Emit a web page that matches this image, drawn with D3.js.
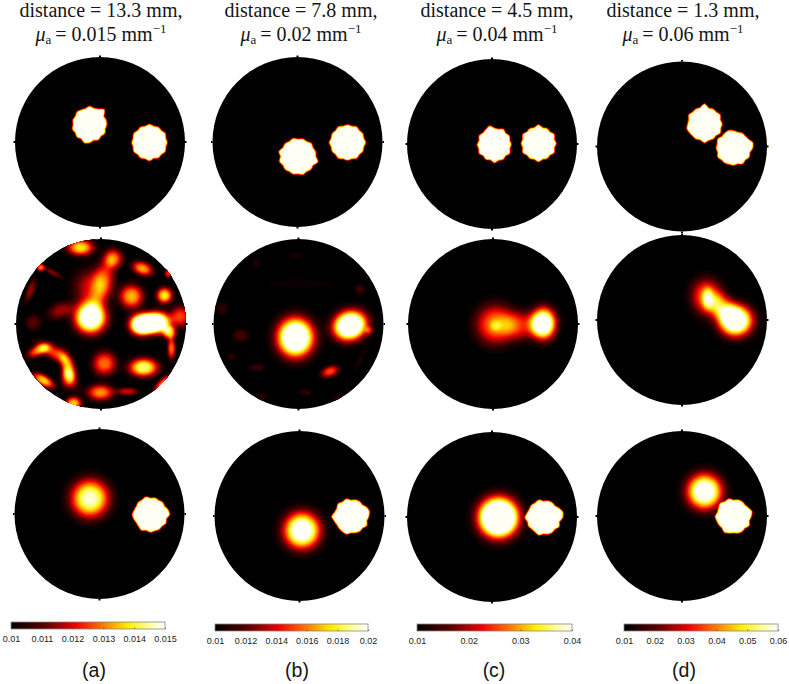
<!DOCTYPE html>
<html>
<head>
<meta charset="utf-8">
<script src="https://d3js.org/d3.v7.min.js"></script>
<style>
  body { margin: 0; background: #fff; }
  svg { display: block; }
  .title { font-family: "Liberation Serif", serif; font-size: 20px; fill: #151515; }
  .caption { font-family: "Liberation Sans", sans-serif; font-size: 19.5px; fill: #151515; }
  .cbar text { font-family: "Liberation Sans", sans-serif; font-size: 9px; fill: #222; }
</style>
</head>
<body>
<svg id="chart" width="789" height="684"></svg>
<script>
//====
// Data
//====
const distances = ["13.3", "7.8", "4.5", "1.3"];
const absorptions = ["0.015", "0.02", "0.04", "0.06"];
const captions = ["(a)", "(b)", "(c)", "(d)"];

// colour bar ticks per column
const barTicks = [
  [0.01, 0.011, 0.012, 0.013, 0.014, 0.015],
  [0.01, 0.012, 0.014, 0.016, 0.018, 0.02],
  [0.01, 0.02, 0.03, 0.04],
  [0.01, 0.02, 0.03, 0.04, 0.05, 0.06]
];
const barTickLabels = [
  ["0.01", "0.011", "0.012", "0.013", "0.014", "0.015"],
  ["0.01", "0.012", "0.014", "0.016", "0.018", "0.02"],
  ["0.01", "0.02", "0.03", "0.04"],
  ["0.01", "0.02", "0.03", "0.04", "0.05", "0.06"]
];
const barX = [[11, 165], [215, 368], [417, 572], [624, 778]];
const barY = [622, 624, 624, 624];
const captionX = [94, 297, 494, 684];
const titleX = [101, 301, 497, 683];

// disc centres on the page, [column][row]
const discCentres = [
  [[100, 142], [101, 324], [99.5, 514]],
  [[297.5, 142], [298.5, 324], [299.5, 516]],
  [[492, 144], [493, 324], [492, 517]],
  [[682, 146.5], [682, 320], [682, 516]]
];

// hot colour map, normalised value -> colour
const hotStops = [0, 0.22, 0.42, 0.6, 0.76, 0.9, 1];
const hotColours = ["#000000", "#5c0000", "#f00000", "#ff7a00", "#ffee00", "#ffffa0", "#ffffff"];

// true inclusions: centre x, y in disc units (radius 85), then outline radius
// read every 15 degrees clockwise from east
const sharpTop = [
  [
    [-11, -18, [17, 16, 17.5, 16, 17.5, 16, 18, 19, 16, 17.5, 16, 17.5, 16, 17, 16, 17.5, 16.5, 16, 18, 16.5, 17.5, 21, 16, 17]],
    [49, 0, [17.5, 16.5, 18, 16.5, 17.5, 16, 18, 16.5, 17.5, 16.5, 18, 16.5, 17.5, 16.5, 18, 16.5, 17.5, 16.5, 18, 16.5, 17.5, 16.5, 18, 16.5]]
  ],
  [
    [0, 14, [17.5, 20.5, 17, 18, 17, 18.5, 17, 18, 17, 18, 17, 19, 17, 19.5, 17, 18, 17, 18.5, 17, 18, 17, 18.5, 17, 18]],
    [49.5, 0, [18, 16.5, 17.5, 16.5, 18, 16.5, 17.5, 16.5, 18, 16.5, 17.5, 16.5, 18, 16.5, 17.5, 16.5, 18, 16.5, 17.5, 16.5, 18, 16.5, 17.5, 16.5]]
  ],
  [
    [2, 0, [16.5, 15.5, 17.5, 15.5, 17, 16, 18, 15.5, 17, 15.5, 17.5, 16, 17, 15.5, 17.5, 16, 17, 19, 16, 15.5, 17.5, 15.5, 17, 15.5]],
    [46, -1, [17.5, 16, 18, 16, 17, 16, 18, 16, 17, 16, 18, 16, 17, 16, 18, 16, 17, 16, 18.5, 16, 17, 16, 18, 16]]
  ],
  [
    [22, -23, [17.5, 16.5, 18, 16, 17, 16.5, 18.5, 16, 17, 16.5, 17, 18, 16.5, 16, 18, 16.5, 17, 16.5, 20, 16, 17, 16.5, 18, 16]],
    [51, 1, [19, 16.5, 18, 16.5, 18, 16, 17, 16.5, 17, 16.5, 18, 16, 17, 16.5, 18, 16, 17, 18, 17, 16, 17, 16.5, 17, 20]]
  ]
];
const sharpBottom = [
  [[50.5, 0, [19, 16, 17.5, 16, 17, 16.5, 17.5, 16, 18, 16.5, 16, 17, 18, 16.5, 16, 17, 16.5, 18, 16, 17, 16, 17, 16, 18]]],
  [[51, 0, [17.5, 16, 18, 16, 17, 16.5, 16, 18, 17, 16.5, 16, 17, 19, 16.5, 16, 18, 16.5, 18, 16, 17, 17, 16, 18, 19]]],
  [[51, 0, [19, 16, 18, 16, 17, 17, 16, 18, 16.5, 16, 17, 16, 18, 16.5, 16, 17, 16.5, 18, 16, 17, 17, 16, 18, 20]]],
  [[51, 0, [17.5, 16, 18, 16, 17, 17, 16, 17, 18, 16, 16.5, 17, 18, 16, 16.5, 18, 16.5, 18, 16, 17, 17, 16, 17, 19]]]
];

// reconstructed blobs: x, y, spread x, spread y, rotation, peak
const softMiddle = [
  [
    [-11, -7, 12, 12, 0, 1.25], [-9, -37, 14, 14, 0, 0.4], [2, -45, 8, 18, 15, 0.42], [12, -66, 7, 7, 0, 0.55],
    [-21, -77, 10, 6, 0, 0.78], [41, -56, 8, 5, 20, 0.68], [67, -51, 3, 3, 0, 0.5], [30, -28, 9, 9, 0, 0.7],
    [63, -29, 6, 6, 0, 0.8], [79, -8, 8, 8, 0, 0.52], [40, 0, 9, 8, 0, 1.35], [55, -2, 10, 8, 0, 1.35], [68, 8, 5, 5, 0, 0.7],
    [70, 24, 3, 8, 0, 0.6], [42, 43, 11, 7, 0, 0.9], [3, 39, 9, 9, 0, 0.6], [-1, 68, 10, 6, 0, 0.65],
    [26, 67, 8, 3, 0, 0.4], [61, 59, 3, 9, 45, 0.6], [-28, 79, 6, 5, 0, 0.75], [-58, 56, 9, 4, 30, 0.75],
    [-63, 26, 9, 4, -25, 0.6], [-48, 28, 5, 14, -60, 0.5], [-33, 44, 5, 14, -20, 0.55], [-34, 53, 5, 8, 0, 0.5],
    [-41, -14, 10, 6, -20, 0.32], [-68, -2, 6, 6, 0, 0.22], [-71, -34, 3, 9, 20, 0.32], [-61, -57, 3, 3, 0, 0.6],
    [-49, -52, 8, 2, 30, 0.3]
  ],
  [
    [-3.5, 13, 14, 15, 0, 1.35], [51, 1, 13, 11, -20, 1.4], [70, 6, 3, 3, 0, 0.3], [31, 47, 7, 4, -20, 0.55],
    [-58, 11, 6, 5, 0, 0.18], [-42, 43, 6, 3, 0, 0.15], [-68, 32, 3, 3, 0, 0.14], [61, -35, 4, 4, 0, 0.16],
    [-77, -16, 5, 5, 0, 0.12], [6, 68, 6, 3, 0, 0.12], [-42, -62, 4, 4, 0, 0.08], [-3, -69, 6, 3, 0, 0.07],
    [-37, 72, 4, 3, 0, 0.12], [38, 74, 4, 3, 0, 0.12], [1, -41, 30, 3, 0, 0.06], [61, 36, 3, 10, 30, 0.07]
  ],
  [
    [2, 0, 15, 15, 0, 0.62], [2, 1, 4, 4, 0, 0.18], [50, -1, 9.5, 12, 0, 1.2], [27, 1, 14, 11, 0, 0.42]
  ],
  [
    [25, -23, 12, 14, -15, 0.62], [25, -22, 4, 8, 0, 0.32], [53, 0, 13, 12, 0, 1.25], [40, -13, 12, 9, 45, 0.42]
  ]
];
const softBottom = [
  [[-10, -16, 14.5, 14.5, 0, 0.98]],
  [[2, 14, 14, 14, 0, 1.15]],
  [[6, 0, 15, 15, 0, 1.7]],
  [[22, -25, 13.5, 13.5, 0, 1.15]]
];

//====
// Scales
//====
const discRadius = 85;
const spreadFactor = 1.3;
const unit = d3.scaleLinear().domain([-discRadius, discRadius]).range([0, 2 * discRadius]);
const hot = d3.scaleLinear().domain(hotStops).range(hotColours).clamp(true);
const levels = d3.range(0.03, 1.0, 0.03);
const contours = d3.contours().size([2 * discRadius + 1, 2 * discRadius + 1]).thresholds(levels);
const contourPath = d3.geoPath();

function softValue(b, x, y) {
  const a = b[4] * Math.PI / 180;
  const dx = x - b[0], dy = y - b[1];
  const u = (dx * Math.cos(a) + dy * Math.sin(a)) / (b[2] * spreadFactor);
  const v = (-dx * Math.sin(a) + dy * Math.cos(a)) / (b[3] * spreadFactor);
  return b[5] * Math.exp(-Math.pow(u * u + v * v, 1.3));
}

function sharpValue(b, x, y) {
  const dx = x - b[0], dy = y - b[1];
  const d = Math.hypot(dx, dy);
  const edge = b[2];
  const t = ((Math.atan2(dy, dx) * 180 / Math.PI + 360) % 360) / 360 * edge.length;
  const i = Math.floor(t) % edge.length;
  const r = d3.interpolateNumber(edge[i], edge[(i + 1) % edge.length])(t - Math.floor(t));
  return Math.max(0, Math.min(1, (r + 1.5 - d) / 2.5));
}

function buildField(sharp, soft) {
  const n = 2 * discRadius + 1;
  const field = new Float64Array(n * n);
  for (let j = 0; j < n; j++) {
    for (let i = 0; i < n; i++) {
      const x = unit.invert(i), y = unit.invert(j);
      let v = 0;
      sharp.forEach(b => { v += sharpValue(b, x, y); });
      soft.forEach(b => { v += softValue(b, x, y); });
      field[j * n + i] = Math.min(1, v);
    }
  }
  return field;
}

//====
// Drawing
//====
const svg = d3.select("#chart");
const defs = svg.append("defs");

const outline = d3.lineRadial()
  .angle(d => d)
  .radius(discRadius)
  .curve(d3.curveLinearClosed)(d3.range(0, 2 * Math.PI, 2 * Math.PI / 64));

defs.append("clipPath").attr("id", "discClip")
  .append("path").attr("d", outline).attr("transform", `translate(${discRadius},${discRadius})`);

const gradient = defs.append("linearGradient").attr("id", "hotBar");
gradient.selectAll("stop").data(hotStops).enter().append("stop")
  .attr("offset", d => d)
  .attr("stop-color", d => hot(d));

function drawDisc(col, row, sharp, soft) {
  const centre = discCentres[col][row];
  const g = svg.append("g").attr("class", "disc")
    .attr("transform", `translate(${centre[0] - discRadius},${centre[1] - discRadius})`);

  g.append("path").attr("d", outline)
    .attr("transform", `translate(${discRadius},${discRadius})`)
    .attr("fill", "#000");

  // little marks at the four source positions
  g.selectAll("line.nub").data([[0, -1], [1, 0], [0, 1], [-1, 0]]).enter().append("line")
    .attr("class", "nub")
    .attr("x1", d => unit(d[0] * discRadius))
    .attr("y1", d => unit(d[1] * discRadius))
    .attr("x2", d => unit(d[0] * (discRadius + 1.5)))
    .attr("y2", d => unit(d[1] * (discRadius + 1.5)))
    .attr("stroke", "#000").attr("stroke-width", 2);

  g.append("g").attr("clip-path", "url(#discClip)")
    .selectAll("path")
    .data(contours(Array.from(buildField(sharp, soft))))
    .enter().append("path")
    .attr("d", contourPath)
    .attr("fill", d => hot(d.value));
}

distances.forEach((dist, col) => {
  const x = titleX[col];

  svg.append("text").attr("class", "title")
    .attr("x", x).attr("y", 17).attr("text-anchor", "middle")
    .text(`distance = ${dist} mm,`);

  const line2 = svg.append("text").attr("class", "title")
    .attr("x", x).attr("y", 41).attr("text-anchor", "middle");
  line2.append("tspan").attr("font-style", "italic").text("\u03bc");
  line2.append("tspan").attr("font-size", 13).attr("dy", 3).text("a");
  line2.append("tspan").attr("dy", -3).text(`\u2009= ${absorptions[col]} mm`);
  line2.append("tspan").attr("font-size", 13).attr("dy", -8).text("\u22121");

  drawDisc(col, 0, sharpTop[col], []);
  drawDisc(col, 1, [], softMiddle[col]);
  drawDisc(col, 2, sharpBottom[col], softBottom[col]);

  // colour bar
  const ticks = barTicks[col];
  const bar = d3.scaleLinear().domain(d3.extent(ticks)).range(barX[col]);
  const g = svg.append("g").attr("class", "cbar");
  g.append("rect")
    .attr("x", barX[col][0]).attr("y", barY[col])
    .attr("width", barX[col][1] - barX[col][0]).attr("height", 7)
    .attr("fill", "url(#hotBar)")
    .attr("stroke", "#888").attr("stroke-width", 0.8);

  const axis = d3.axisBottom(bar)
    .tickValues(ticks)
    .tickFormat((d, i) => barTickLabels[col][i])
    .tickSize(0)
    .tickPadding(7);
  const ax = g.append("g")
    .attr("transform", `translate(0,${barY[col] + 7})`)
    .call(axis);
  ax.select(".domain").remove();
  ax.selectAll(".tick").append("line")
    .attr("y1", 0).attr("y2", -1.5).attr("stroke", "#333").attr("stroke-width", 0.6);

  svg.append("text").attr("class", "caption")
    .attr("x", captionX[col]).attr("y", 677).attr("text-anchor", "middle")
    .text(captions[col]);
});
</script>
</body>
</html>
